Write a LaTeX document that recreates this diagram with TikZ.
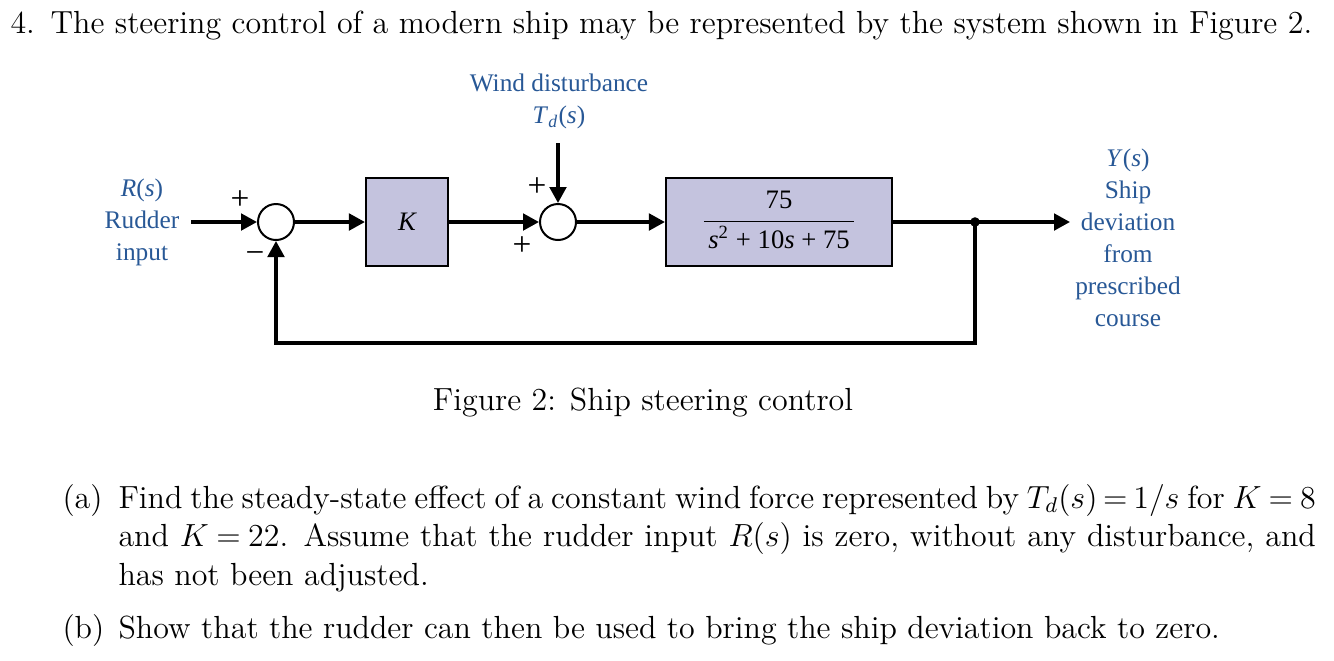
\documentclass[tikz,border=0pt]{standalone}
\usepackage{fontspec}
\newfontfamily\figfont{Liberation Serif}
\usetikzlibrary{arrows.meta,positioning}
\definecolor{labelblue}{RGB}{40,88,150}
\definecolor{blockfill}{RGB}{196,195,222}

\begin{document}
\begin{tikzpicture}[x=0.375pt,y=-0.375pt,
    prose/.style={inner sep=0pt,font=\fontsize{12}{14.6}\selectfont},
    block/.style={draw,line width=0.8pt,fill=blockfill,inner sep=0pt,minimum height=33pt},
    sumnode/.style={draw,circle,line width=0.75pt,minimum size=13.5pt,inner sep=0pt,fill=white},
    sig/.style={line width=1.3pt,-{Triangle[length=6pt,width=6.2pt]}},
    wire/.style={line width=1.3pt},
    lbl/.style={text=labelblue,font=\figfont\fontsize{9.5}{12}\selectfont,align=center},
    sgn/.style={font=\figfont\fontsize{12.5}{13}\selectfont,inner sep=0pt}]
    \useasboundingbox (0,0) rectangle (1334,660);

    % question
    \node[prose,anchor=base west] (qnum) at (10,33) {4.};
    \node[prose,anchor=base west] (qtext) at (50,33)
      {The steering control of a modern ship may be represented by the system shown in Figure 2.};

    % blocks
    \node[sumnode] (sum1) at (276,222) {};
    \node[block,minimum width=30.75pt] (gain) at (407,222) {\figfont\itshape K};
    \node[sumnode] (sum2) at (558,222) {};
    \node[block,minimum width=84.75pt] (plant) at (779,222)
      {\figfont\begin{tabular}{@{\,}c@{\,}}75\\[1pt]\hline
        \rule{0pt}{10pt}\textit{s}\textsuperscript{2} + 10\textit{s} + 75\end{tabular}};
    \coordinate (rin) at (191,222);
    \coordinate (branch) at (975,222);
    \coordinate (yout) at (1070,222);
    \coordinate (wind) at (558,143);
    \coordinate (fbr) at (975,343);
    \coordinate (fbl) at (276,343);

    % signals
    \draw[sig] (rin) -- (sum1);
    \draw[sig] (sum1) -- (gain);
    \draw[sig] (gain) -- (sum2);
    \draw[sig] (wind) -- (sum2);
    \draw[sig] (sum2) -- (plant);
    \draw[wire] (plant) -- (branch);
    \draw[sig] (branch) -- (yout);
    \draw[sig] (branch) -- (fbr) -- (fbl) -- (sum1);
    \fill (branch) circle (1.8pt);

    % labels
    \node[lbl] (rlbl) at (142,222) {\textit{R}(\textit{s})\\Rudder\\input};
    \node[lbl] (wlbl) at (559,101) {Wind disturbance\\\textit{T}\textsubscript{\textit{d}}(\textit{s})};
    \node[lbl] (ylbl) at (1128,238) {\textit{Y}(\textit{s})\\Ship\\deviation\\from\\prescribed\\course};
    \node[sgn] (p1) at (240,200) {+};
    \node[sgn] (m1) at (255,258) {−};
    \node[sgn] (p2) at (537,187) {+};
    \node[sgn] (p3) at (522,246) {+};

    % caption
    \node[prose,anchor=base] (cap) at (643,410) {Figure 2: Ship steering control};

    % parts
    \node[prose,anchor=base west] (alab) at (62,508) {(a)};
    \node[prose,anchor=base west,text width=449pt,align=justify] (atext) at (118,508)
      {\thickmuskip=4mu plus 2mu minus 1mu
       Find the steady-state effect of a constant wind force represented by $T_d(s) = 1/s$ for \mbox{$K = 8$}\linebreak
       and $K = 22$. Assume that the rudder input $R(s)$ is zero, without any disturbance, and\linebreak
       has not been adjusted.};
    \node[prose,anchor=base west] (blab) at (62,638) {(b)};
    \node[prose,anchor=base west] (btext) at (118,638)
      {Show that the rudder can then be used to bring the ship deviation back to zero.};
\end{tikzpicture}
\end{document}
